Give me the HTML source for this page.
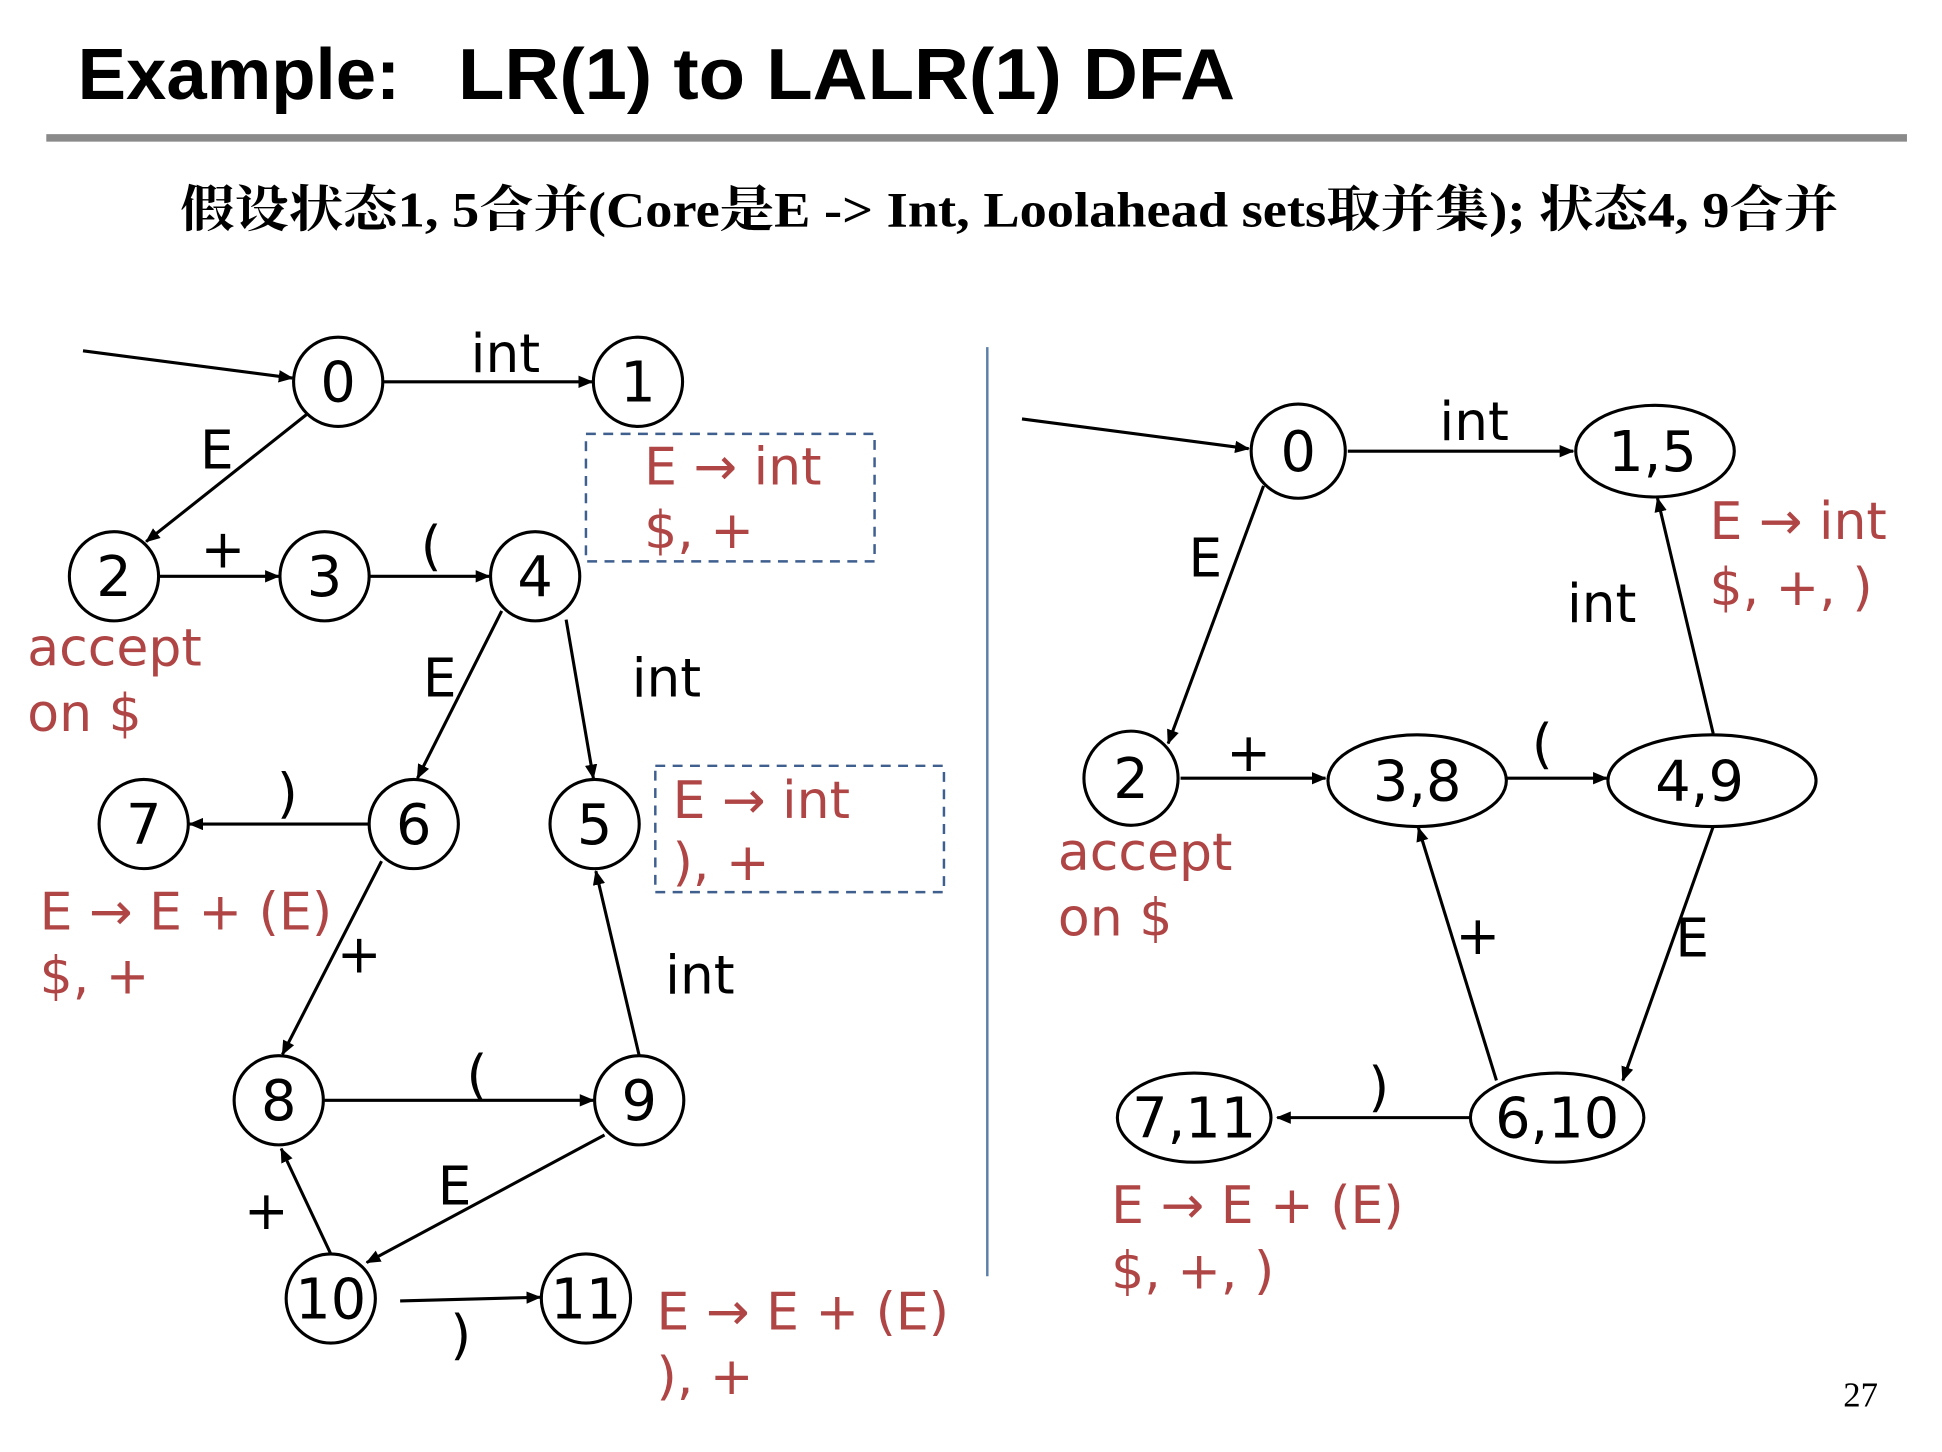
<!DOCTYPE html>
<html><head><meta charset="utf-8"><style>
html,body{margin:0;padding:0;background:#fff;}
svg{display:block;}
.n{font-family:"DejaVu Sans","Liberation Sans",sans-serif;font-size:45px;fill:#000;text-anchor:middle;}
.l{font-family:"DejaVu Sans","Liberation Sans",sans-serif;font-size:43px;fill:#000;text-anchor:middle;}
.r{font-family:"DejaVu Sans","Liberation Sans",sans-serif;font-size:42px;fill:#b04545;}
</style></head><body>
<svg width="1942" height="1452" viewBox="0 0 1552 1160" xmlns="http://www.w3.org/2000/svg">
<defs><marker id="a" markerWidth="12" markerHeight="10" refX="11" refY="5" orient="auto" markerUnits="userSpaceOnUse"><path d="M0,0 L12,5 L0,10 z" fill="#000"/></marker></defs>
<text x="62" y="79" font-family="Liberation Sans, sans-serif" font-weight="bold" font-size="58">Example:</text>
<text x="366" y="79" textLength="621" lengthAdjust="spacingAndGlyphs" font-family="Liberation Sans, sans-serif" font-weight="bold" font-size="58">LR(1) to LALR(1) DFA</text>
<rect x="37" y="107" width="1487" height="6" fill="#8a8a8a"/>
<text x="144" y="181" textLength="1325" lengthAdjust="spacingAndGlyphs" font-family="Liberation Serif, 'Noto Serif CJK SC', serif" font-weight="bold" font-size="40">假设状态1, 5合并(Core是E -&gt; Int, Loolahead sets取并集); 状态4, 9合并</text>
<g transform="scale(0.99)">
<line x1="797" y1="280" x2="797" y2="1030" stroke="#5b7fa8" stroke-width="2"/>
<g stroke="#000" stroke-width="2.5" fill="none" marker-end="url(#a)">
<line x1="67" y1="283" x2="236" y2="305"/>
<line x1="310" y1="308" x2="478" y2="308"/>
<line x1="248" y1="334" x2="118" y2="437"/>
<line x1="129" y1="465" x2="225" y2="465"/>
<line x1="299" y1="465" x2="395" y2="465"/>
<line x1="405" y1="493" x2="337" y2="628"/>
<line x1="457" y1="500" x2="479" y2="628"/>
<line x1="298" y1="665" x2="153" y2="665"/>
<line x1="308" y1="695" x2="228" y2="851"/>
<line x1="262" y1="888" x2="479" y2="888"/>
<line x1="516" y1="852" x2="481" y2="703"/>
<line x1="488" y1="916" x2="296" y2="1019"/>
<line x1="267" y1="1012" x2="227" y2="927"/>
<line x1="323" y1="1050" x2="436" y2="1047"/>
<line x1="825" y1="338" x2="1008" y2="362"/>
<line x1="1088" y1="364" x2="1270" y2="364"/>
<line x1="1020" y1="392" x2="943" y2="600"/>
<line x1="953" y1="628" x2="1070" y2="628"/>
<line x1="1216" y1="628" x2="1297" y2="628"/>
<line x1="1383" y1="592" x2="1338" y2="402"/>
<line x1="1383" y1="667" x2="1310" y2="872"/>
<line x1="1208" y1="872" x2="1145" y2="668"/>
<line x1="1187" y1="902" x2="1031" y2="902"/>
</g>
<g stroke="#000" stroke-width="2.5" fill="#fff">
<circle cx="273" cy="308" r="36"/><circle cx="515" cy="308" r="36"/>
<circle cx="92" cy="465" r="36"/><circle cx="262" cy="465" r="36"/><circle cx="432" cy="465" r="36"/>
<circle cx="116" cy="665" r="36"/><circle cx="334" cy="665" r="36"/><circle cx="480" cy="665" r="36"/>
<circle cx="225" cy="888" r="36"/><circle cx="516" cy="888" r="36"/>
<circle cx="267" cy="1048" r="36"/><circle cx="473" cy="1048" r="36"/>
<circle cx="1048" cy="364" r="38"/><ellipse cx="1336" cy="364" rx="64" ry="37"/>
<circle cx="913" cy="628" r="38"/><ellipse cx="1144" cy="630" rx="72" ry="37"/><ellipse cx="1382" cy="630" rx="84" ry="37"/>
<ellipse cx="1257" cy="902" rx="70" ry="36"/><ellipse cx="964" cy="902" rx="62" ry="36"/>
</g>
<g stroke="#3f5f8f" stroke-width="2" stroke-dasharray="8,6" fill="none">
<rect x="473" y="350" width="233" height="103"/>
<rect x="529" y="618" width="233" height="102"/>
</g>
<g class="n">
<text x="273" y="324">0</text><text x="515" y="324">1</text>
<text x="92" y="481">2</text><text x="262" y="481">3</text><text x="432" y="481">4</text>
<text x="116" y="681">7</text><text x="334" y="681">6</text><text x="480" y="681">5</text>
<text x="225" y="904">8</text><text x="516" y="904">9</text>
<text x="267" y="1064">10</text><text x="473" y="1064">11</text>
<text x="1048" y="380">0</text><text x="1334" y="380">1,5</text>
<text x="913" y="644">2</text><text x="1144" y="646">3,8</text><text x="1372" y="646">4,9</text>
<text x="1257" y="918">6,10</text><text x="964" y="918">7,11</text>
</g>
<g class="l">
<text x="408" y="300">int</text><text x="175" y="378">E</text><text x="180" y="458">+</text><text x="348" y="455">(</text>
<text x="355" y="562">E</text><text x="538" y="562">int</text><text x="232" y="655">)</text><text x="290" y="785">+</text>
<text x="385" y="882">(</text><text x="565" y="802">int</text><text x="367" y="972">E</text><text x="215" y="992">+</text>
<text x="372" y="1092">)</text>
<text x="1190" y="355">int</text><text x="973" y="465">E</text><text x="1008" y="622">+</text><text x="1245" y="615">(</text>
<text x="1293" y="502">int</text><text x="1366" y="772">E</text><text x="1193" y="770">+</text><text x="1113" y="892">)</text>
</g>
<g class="r">
<text x="520" y="391">E → int</text><text x="520" y="442">$, +</text>
<text x="543" y="660">E → int</text><text x="543" y="710">), +</text>
<text x="22" y="537">accept</text><text x="22" y="590">on $</text>
<text x="32" y="750">E → E + (E)</text><text x="32" y="802">$, +</text>
<text x="530" y="1073">E → E + (E)</text><text x="530" y="1125">), +</text>
<text x="1380" y="435">E → int</text><text x="1380" y="488">$, +, )</text>
<text x="854" y="702">accept</text><text x="854" y="755">on $</text>
<text x="897" y="987">E → E + (E)</text><text x="897" y="1040">$, +, )</text>
</g>
<text x="1488" y="1135" font-family="Liberation Serif, serif" font-size="28">27</text>
</g>
</svg>
</body></html>
